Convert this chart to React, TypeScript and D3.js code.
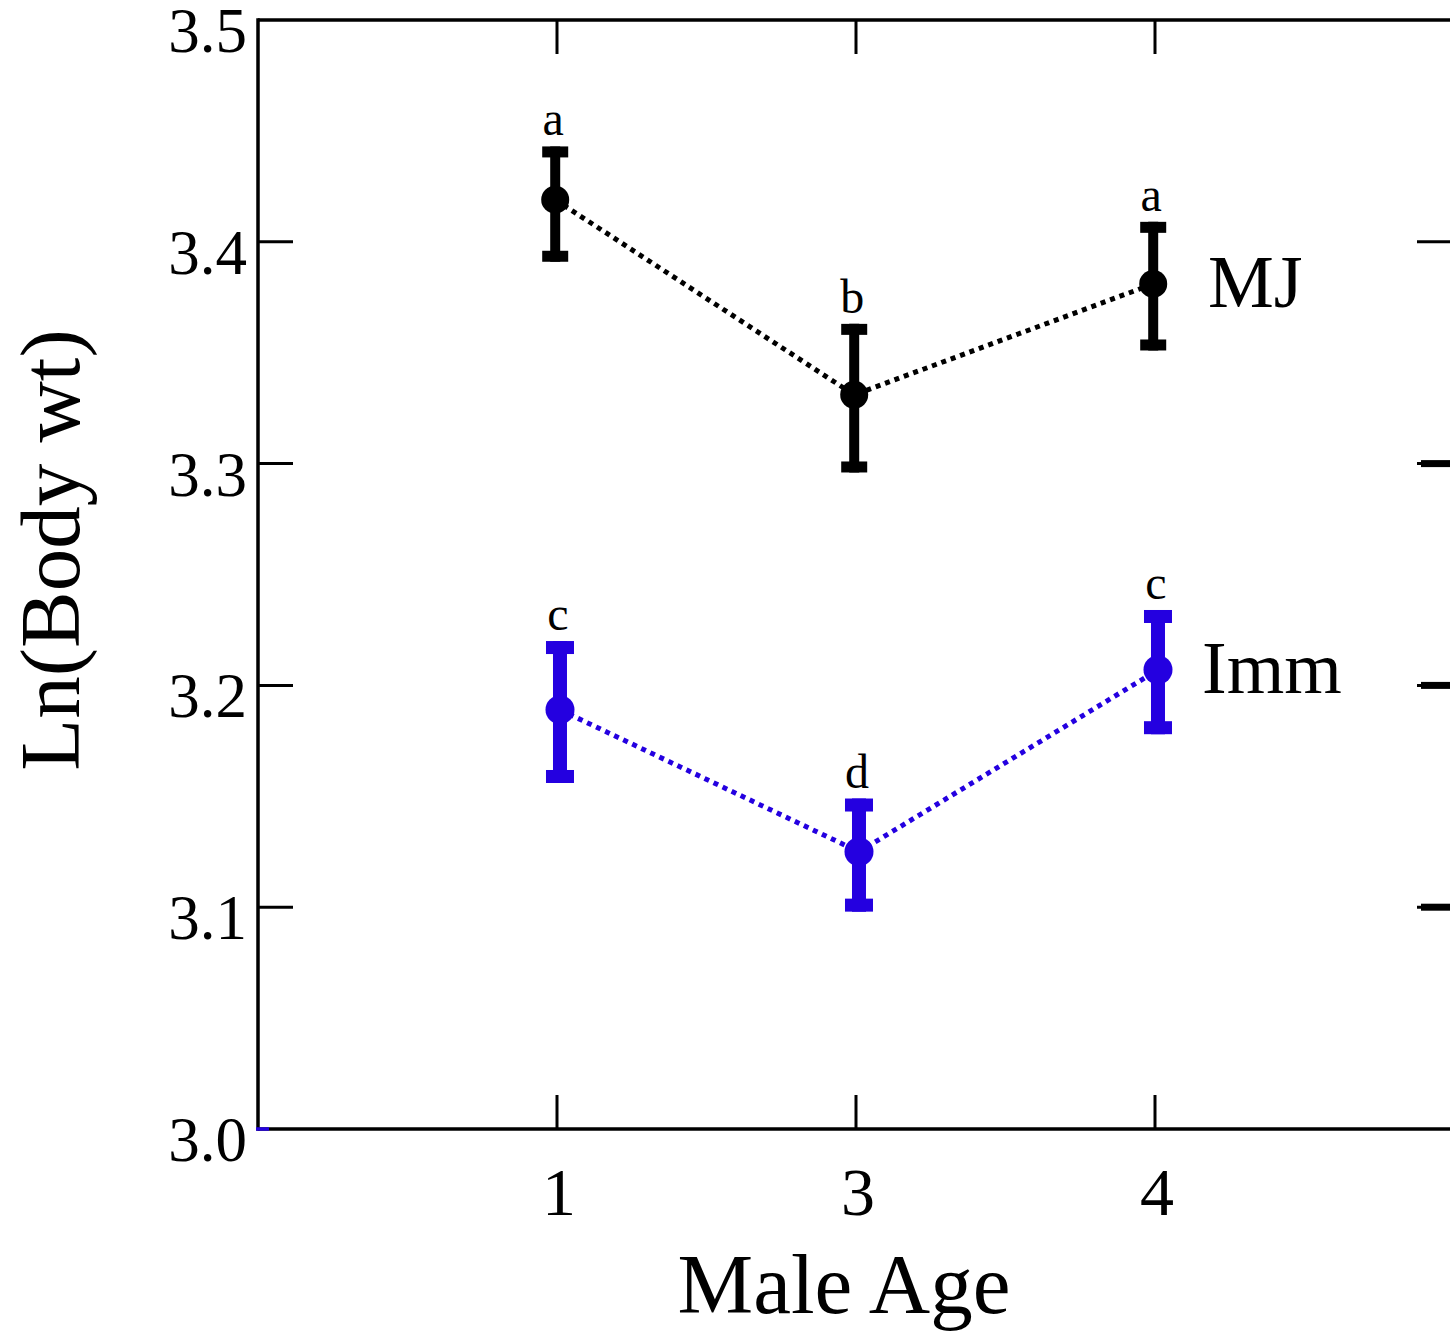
import React from "react";
import * as d3 from "d3";

const categories = ["1", "3", "4"];
const catPos = [1, 2, 3];
const yTicks = [3.0, 3.1, 3.2, 3.3, 3.4, 3.5];

const mjMean = [3.419, 3.331, 3.381];
const mjLow = [3.391, 3.296, 3.351];
const mjHigh = [3.443, 3.363, 3.409];
const mjLetters = ["a", "b", "a"];

const immMean = [3.189, 3.125, 3.207];
const immLow = [3.156, 3.098, 3.178];
const immHigh = [3.22, 3.149, 3.234];
const immLetters = ["c", "d", "c"];

const BLUE = "#2400e0";
const FONT = "'Liberation Serif', 'Times New Roman', serif";

export default function App() {
  const W = 1450, H = 1333;
  const left = 258, top = 20, bottom = 1129;
  const x = d3.scaleLinear().domain([0, 4]).range([left, left + 4 * 299]);
  const y = d3.scaleLinear().domain([3.0, 3.5]).range([bottom, top]);

  const series = [
    { mean: mjMean, low: mjLow, high: mjHigh, letters: mjLetters, color: "#000", off: -0.006, sw: 10, capW: 26, capH: 11, r: 14, name: "MJ" },
    { mean: immMean, low: immLow, high: immHigh, letters: immLetters, color: BLUE, off: 0.01, sw: 14, capW: 28, capH: 13, r: 14.5, name: "Imm" },
  ];

  const line = d3.line<number>().x((_, i) => 0).y((d) => y(d));

  return (
    <svg width={W} height={H} style={{ position: "absolute", left: 0, top: 0, background: "#fff" }} fontFamily={FONT}>
      <rect x={0} y={0} width={W} height={H} fill="#fff" />
      {/* frame */}
      <line x1={left} y1={top} x2={W} y2={top} stroke="#000" strokeWidth={3.5} />
      <line x1={left} y1={bottom} x2={W} y2={bottom} stroke="#000" strokeWidth={3.5} />
      <line x1={left} y1={top - 1.7} x2={left} y2={bottom + 1.7} stroke="#000" strokeWidth={3.5} />
      <line x1={left - 2} y1={bottom} x2={left + 11} y2={bottom} stroke={BLUE} strokeWidth={3.5} />
      {/* left ticks */}
      {yTicks.slice(1, -1).map((t) => (
        <line key={"lt" + t} x1={left} x2={left + 35} y1={y(t)} y2={y(t)} stroke="#000" strokeWidth={3} />
      ))}
      {/* right ticks */}
      {yTicks.slice(1, -1).map((t) =>
        t === 3.4 ? (
          <line key={"rt" + t} x1={1417} x2={W} y1={y(t)} y2={y(t)} stroke="#000" strokeWidth={3} />
        ) : (
          <g key={"rt" + t}>
            <line x1={1417} x2={W} y1={y(t)} y2={y(t)} stroke="#000" strokeWidth={3} />
            <line x1={1421} x2={W} y1={y(t)} y2={y(t)} stroke="#000" strokeWidth={7} />
          </g>
        )
      )}
      {/* y tick labels */}
      {yTicks.map((t) => (
        <text key={"yl" + t} x={247} y={y(t) + 32} textAnchor="end" fontSize={63}>
          {t.toFixed(1)}
        </text>
      ))}
      {/* x ticks */}
      {catPos.map((p, i) => (
        <g key={"xt" + i}>
          <line x1={x(p)} x2={x(p)} y1={bottom} y2={bottom - 34} stroke="#000" strokeWidth={3} />
          <line x1={x(p)} x2={x(p)} y1={top} y2={top + 34} stroke="#000" strokeWidth={3} />
          <text x={x(p) + 2} y={1215} textAnchor="middle" fontSize={68}>
            {categories[i]}
          </text>
        </g>
      ))}
      {/* titles */}
      <text x={844} y={1313} textAnchor="middle" fontSize={85}>Male Age</text>
      <text transform={`translate(79,550) rotate(-90)`} textAnchor="middle" fontSize={85}>Ln(Body wt)</text>

      {series.map((s) => {
        const xs = catPos.map((p) => x(p + s.off));
        const pathD = d3
          .line<number>()
          .x((_, i) => xs[i])
          .y((d) => y(d))(s.mean) as string;
        return (
          <g key={s.name}>
            <path d={pathD} fill="none" stroke={s.color} strokeWidth={5} strokeDasharray="5,5" />
            {s.mean.map((m, i) => (
              <g key={i}>
                <line x1={xs[i]} x2={xs[i]} y1={y(s.high[i])} y2={y(s.low[i])} stroke={s.color} strokeWidth={s.sw} />
                <rect x={xs[i] - s.capW / 2} y={y(s.high[i])} width={s.capW} height={s.capH} fill={s.color} />
                <rect x={xs[i] - s.capW / 2} y={y(s.low[i]) - s.capH} width={s.capW} height={s.capH} fill={s.color} />
                <circle cx={xs[i]} cy={y(m)} r={s.r} fill={s.color} />
                <text x={xs[i] - 2} y={y(s.high[i]) - 11} textAnchor="middle" fontSize={48} fill="#000">
                  {s.letters[i]}
                </text>
              </g>
            ))}
          </g>
        );
      })}
      <text x={1208} y={307} fontSize={74}>MJ</text>
      <text x={1202} y={693} fontSize={74}>Imm</text>
    </svg>
  );
}
